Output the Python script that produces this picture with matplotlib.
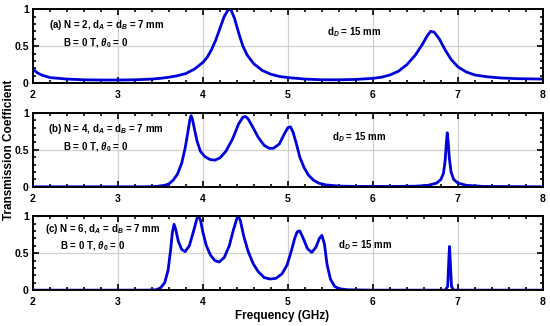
import numpy as np
import matplotlib.pyplot as plt
from matplotlib.ticker import MultipleLocator

plt.rcParams['font.family'] = ['Liberation Sans', 'DejaVu Sans']
plt.rcParams['font.weight'] = 'bold'
plt.rcParams['mathtext.fontset'] = 'custom'
plt.rcParams['mathtext.rm'] = 'Liberation Sans:bold'
plt.rcParams['mathtext.it'] = 'Liberation Sans:bold:italic'

# (a) N = 2
freq_a = [2.0, 2.05, 2.1, 2.2, 2.4, 2.6, 2.8, 3.0, 3.2, 3.4, 3.5, 3.6, 3.7, 3.8, 3.9,
          4.0, 4.05, 4.1, 4.15, 4.2, 4.25, 4.3, 4.33, 4.37, 4.42, 4.47, 4.52, 4.6,
          4.7, 4.8, 4.9, 5.0, 5.2, 5.4, 5.6, 5.8, 6.0, 6.1, 6.2, 6.3, 6.4, 6.5,
          6.58, 6.64, 6.68, 6.72, 6.78, 6.85, 6.92, 7.0, 7.1, 7.2, 7.35, 7.5, 7.7, 8.0]
trans_a = [0.19, 0.14, 0.11, 0.075, 0.055, 0.045, 0.042, 0.042, 0.045, 0.055, 0.065,
           0.08, 0.10, 0.13, 0.19, 0.28, 0.35, 0.45, 0.58, 0.74, 0.90, 0.995, 0.99,
           0.88, 0.68, 0.50, 0.38, 0.26, 0.17, 0.12, 0.09, 0.075, 0.055, 0.045, 0.045,
           0.05, 0.065, 0.08, 0.11, 0.16, 0.25, 0.38, 0.52, 0.64, 0.70, 0.69, 0.60,
           0.45, 0.32, 0.22, 0.15, 0.11, 0.085, 0.07, 0.06, 0.055]

# (b) N = 4
freq_b = [2.0, 3.3, 3.45, 3.55, 3.6, 3.65, 3.7, 3.75, 3.79, 3.82, 3.845, 3.86, 3.875,
          3.9, 3.93, 3.97, 4.02, 4.08, 4.14, 4.2, 4.27, 4.35, 4.42, 4.47, 4.5, 4.53,
          4.58, 4.65, 4.72, 4.78, 4.83, 4.9, 4.96, 5.0, 5.03, 5.06, 5.1, 5.14, 5.19,
          5.24, 5.3, 5.36, 5.45, 5.6, 5.8, 6.2, 6.5, 6.65, 6.75, 6.8, 6.83, 6.85,
          6.865, 6.875, 6.885, 6.9, 6.92, 6.95, 7.0, 7.1, 7.3, 8.0]
trans_b = [0.0, 0.0, 0.005, 0.02, 0.04, 0.09, 0.17, 0.32, 0.52, 0.72, 0.9, 0.96, 0.92,
           0.78, 0.62, 0.48, 0.41, 0.37, 0.36, 0.39, 0.48, 0.65, 0.85, 0.94, 0.95, 0.92,
           0.82, 0.67, 0.56, 0.52, 0.52, 0.58, 0.72, 0.80, 0.81, 0.74, 0.58, 0.40, 0.26,
           0.16, 0.09, 0.05, 0.025, 0.01, 0.005, 0.005, 0.008, 0.02, 0.05, 0.1, 0.18,
           0.35, 0.6, 0.73, 0.62, 0.38, 0.2, 0.1, 0.05, 0.02, 0.005, 0.0]

# (c) N = 6
freq_c = [2.0, 3.35, 3.45, 3.5, 3.55, 3.59, 3.62, 3.64, 3.66, 3.68, 3.71, 3.75, 3.79,
          3.84, 3.89, 3.93, 3.95, 3.97, 4.0, 4.04, 4.09, 4.14, 4.19, 4.25, 4.31, 4.36,
          4.4, 4.42, 4.44, 4.48, 4.53, 4.59, 4.65, 4.72, 4.79, 4.86, 4.93, 4.99, 5.04,
          5.08, 5.11, 5.14, 5.18, 5.23, 5.28, 5.33, 5.37, 5.4, 5.43, 5.46, 5.5, 5.55,
          5.6, 5.7, 6.0, 6.85, 6.88, 6.895, 6.902, 6.91, 6.925, 6.95, 8.0]
trans_c = [0.0, 0.0, 0.005, 0.03, 0.1, 0.27, 0.55, 0.78, 0.89, 0.82, 0.66, 0.55, 0.52,
           0.6, 0.8, 0.97, 1.0, 0.95, 0.78, 0.6, 0.47, 0.4, 0.38, 0.44, 0.6, 0.82,
           0.97, 0.99, 0.94, 0.73, 0.53, 0.36, 0.25, 0.17, 0.15, 0.16, 0.22, 0.34, 0.53,
           0.7, 0.79, 0.8, 0.7, 0.56, 0.51, 0.58, 0.7, 0.74, 0.62, 0.35, 0.15, 0.05,
           0.02, 0.005, 0.0, 0.0, 0.05, 0.45, 0.59, 0.4, 0.05, 0.0, 0.0]

labels = ['(a) N = 2, d$_A$ = d$_B$ = 7 mm',
          '(b) N = 4, d$_A$ = d$_B$ = 7 mm',
          '(c) N = 6, d$_A$ = d$_B$ = 7 mm']
sub_label = 'B = 0 T, $\\theta_0$ = 0'
dd_label = 'd$_D$ = 15 mm'

curves = [(freq_a, trans_a), (freq_b, trans_b), (freq_c, trans_c)]

# text positions (data coords) per panel
lab_pos = [(2.19, 0.78), (2.18, 0.78), (2.14, 0.82)]
sub_pos = [(2.35, 0.54), (2.35, 0.53), (2.32, 0.59)]
dd_pos = [(5.46, 0.69), (5.52, 0.67), (5.59, 0.61)]

fig = plt.figure(figsize=(5.5, 3.26), dpi=100)
bottoms = [0.745, 0.427, 0.110]
height = 0.227

for i in range(3):
    ax = fig.add_axes([0.06, bottoms[i], 0.927, height])
    f, t = curves[i]
    ax.plot(f, t, color='#0000d8', lw=2.0)
    ax.set_xlim(2, 8)
    ax.set_ylim(0, 1)
    ax.xaxis.set_major_locator(MultipleLocator(1))
    ax.xaxis.set_minor_locator(MultipleLocator(0.2))
    ax.yaxis.set_major_locator(MultipleLocator(0.5))
    ax.yaxis.set_minor_locator(MultipleLocator(0.1))
    ax.set_yticks([0, 0.5, 1])
    ax.set_yticklabels(['0', '0.5', '1'])
    ax.grid(True, which='major', color='#d0d0d0', lw=0.9)
    ax.set_axisbelow(True)
    ax.tick_params(which='both', direction='in', top=True, right=True,
                   labelsize=7.5, width=1.2)
    ax.tick_params(axis='x', pad=5)
    ax.tick_params(axis='y', pad=3)
    ax.tick_params(which='major', length=4)
    ax.tick_params(which='minor', length=2.5)
    for s in ax.spines.values():
        s.set_linewidth(1.4)
    ax.text(lab_pos[i][0], lab_pos[i][1], labels[i], fontsize=7, fontweight='bold', va='center')
    ax.text(sub_pos[i][0], sub_pos[i][1], sub_label, fontsize=7, fontweight='bold', va='center')
    ax.text(dd_pos[i][0], dd_pos[i][1], dd_label, fontsize=7, fontweight='bold', va='center')

fig.text(0.017, 0.54, 'Transmission Coefficient', rotation=90, fontsize=8.5,
         fontweight='bold', ha='center', va='center')
fig.text(0.513, 0.03, 'Frequency (GHz)', fontsize=8.5, fontweight='bold',
         ha='center', va='center')

plt.savefig('out.png', dpi=100)
